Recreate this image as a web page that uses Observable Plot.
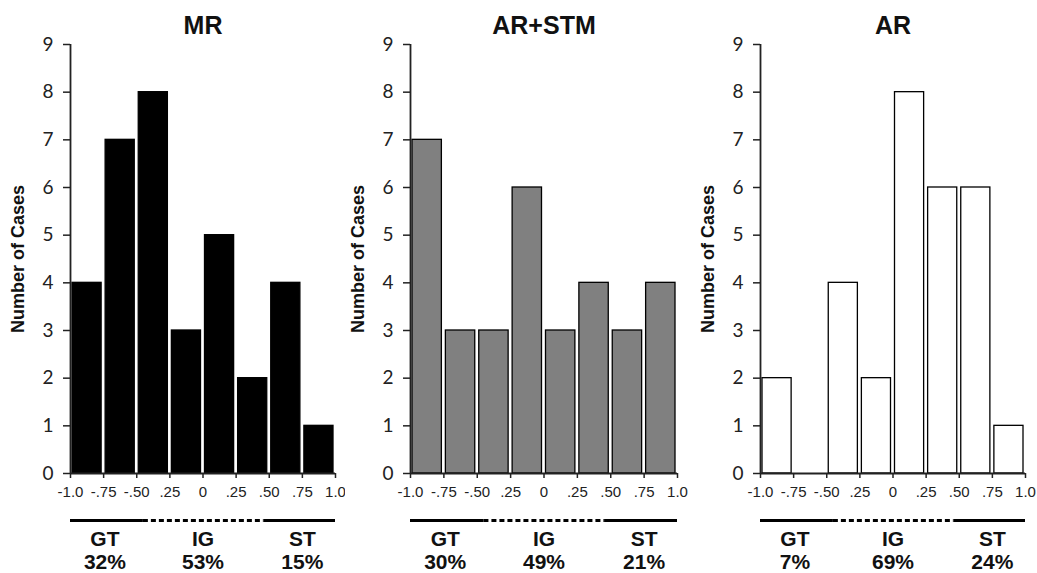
<!DOCTYPE html>
<html><head><meta charset="utf-8">
<script src="https://cdn.jsdelivr.net/npm/d3@7"></script>
<script src="https://cdn.jsdelivr.net/npm/@observablehq/plot@0.6"></script>
<style>
body{margin:0;background:#fff}
#row{display:flex;align-items:flex-start}
</style>
</head><body><div id="row"></div>
<script>
// ---- data ----
const binEdges = [-1, -0.75, -0.5, -0.25, 0, 0.25, 0.5, 0.75, 1];
const xTickLabels = ["-1.0", "-.75", "-.50", ".25", "0", ".25", ".50", ".75", "1.0"];
const yTicks = [0, 1, 2, 3, 4, 5, 6, 7, 8, 9];
const panelTitles = ["MR", "AR+STM", "AR"];
const mrCounts = [4, 7, 8, 3, 5, 2, 4, 1];
const arStmCounts = [7, 3, 3, 6, 3, 4, 3, 4];
const arCounts = [2, 0, 4, 2, 8, 6, 6, 1];
const groupNames = ["GT", "IG", "ST"];
const groupStart = [-1, -0.45, 0.46];
const groupEnd = [-0.45, 0.46, 1];
const groupLabelX = [-0.74, 0, 0.75];
const mrPercents = [32, 53, 15];
const arStmPercents = [30, 49, 21];
const arPercents = [7, 69, 24];
const yLabel = "Number of Cases";

const panels = [
  {title: panelTitles[0], counts: mrCounts, pct: mrPercents, fill: "#000000", width: 345, ml: 70, mr: 10},
  {title: panelTitles[1], counts: arStmCounts, pct: arStmPercents, fill: "#808080", width: 345, ml: 65, mr: 13},
  {title: panelTitles[2], counts: arCounts, pct: arPercents, fill: "#ffffff", width: 347, ml: 70, mr: 12}
];

const sans = "'Liberation Sans', Arial, sans-serif";
const tickFont = "Lato, 'Open Sans', sans-serif";
const row = document.getElementById("row");

for (const p of panels) {
  const bars = p.counts.map((c, i) => ({x1: binEdges[i], x2: binEdges[i + 1], count: c})).filter(d => d.count > 0);
  const groups = groupNames.map((g, i) => ({name: g, start: groupStart[i], end: groupEnd[i], lx: groupLabelX[i], pct: p.pct[i]}));
  const chart = Plot.plot({
    width: p.width,
    height: 573,
    marginTop: 44,
    marginBottom: 100,
    marginLeft: p.ml,
    marginRight: p.mr,
    style: {fontFamily: sans, background: "#fff", overflow: "visible"},
    x: {domain: [-1, 1]},
    y: {domain: [0, 9]},
    marks: [
      Plot.rectY(bars, {x1: "x1", x2: "x2", y: "count", fill: p.fill, stroke: "#000", strokeWidth: 1.3, insetLeft: 2, insetRight: 2}),
      Plot.ruleX([-1], {y1: 0, y2: 9, stroke: "#222", strokeWidth: 1.8}),
      Plot.ruleY([0], {x1: -1, x2: 1, stroke: "#222", strokeWidth: 1.8}),
      Plot.axisY({ticks: yTicks, tickSize: 7, tickFormat: () => "", label: null, stroke: "#222", strokeWidth: 1.5}),
      Plot.axisX({ticks: binEdges, tickSize: 5, tickFormat: () => "", label: null, stroke: "#222", strokeWidth: 1.5}),
      Plot.text(yTicks, {x: () => -1, y: d => d, text: d => String(d), dx: -17, textAnchor: "end", lineAnchor: "middle", fontSize: 19, fontFamily: tickFont, fill: "#222"}),
      Plot.text(binEdges, {x: d => d, y: () => 0, text: (d, i) => xTickLabels[i], dy: 19, lineAnchor: "middle", fontSize: 15, fontFamily: sans, fill: "#222"}),
      Plot.text([p.title], {text: d => d, frameAnchor: "top", lineAnchor: "middle", dy: -19, fontSize: 25, fontWeight: "bold", fontFamily: sans, fill: "#111"}),
      Plot.text([yLabel], {text: d => d, frameAnchor: "left", textAnchor: "middle", lineAnchor: "middle", dx: -52, rotate: -90, fontSize: 18, fontWeight: "bold", fontFamily: sans, fill: "#111"}),
      Plot.ruleY(groups.filter(d => d.name !== "IG"), {x1: "start", x2: "end", y: () => 0, dy: 47, stroke: "#000", strokeWidth: 3.2}),
      Plot.ruleY(groups.filter(d => d.name === "IG"), {x1: "start", x2: "end", y: () => 0, dy: 47, stroke: "#000", strokeWidth: 3.2, strokeDasharray: "5,3"}),
      Plot.text(groups, {x: "lx", y: () => 0, dy: 77, text: d => `${d.name}\n${d.pct}%`, lineHeight: 1.1, fontSize: 21, fontWeight: "bold", fontFamily: sans, fill: "#111"})
    ]
  });
  row.appendChild(chart);
}
</script>
</body></html>
